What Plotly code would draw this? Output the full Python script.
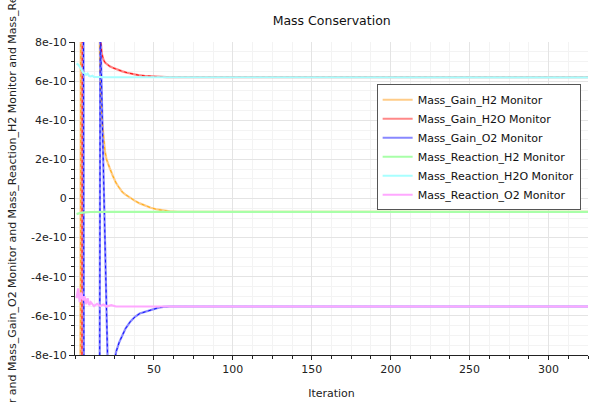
import numpy as np
import plotly.graph_objects as go

# values, in units of 1e-10
SCALE = 1e-10

gain_h2_iter = [1, 2, 3, 4, 6, 9, 12, 15, 16, 17, 18, 19, 20, 21, 22, 24, 26, 28, 30, 32,
                35, 38, 41, 45, 48, 52, 56, 60, 65, 325]
gain_h2 = [-45, -42, -40, 38, 35, 30, 25, 12, 6.0, 4.1, 3.0, 2.4, 2.0, 1.75, 1.55, 1.15, 0.8,
           0.55, 0.33, 0.2, 0.03, -0.12, -0.25, -0.38, -0.47, -0.56, -0.62, -0.66, -0.68, -0.68]

gain_h2o_iter = [1, 2, 3, 4, 5, 8, 12, 15, 16, 17, 18, 19, 20, 22, 24, 27, 30, 33, 36, 40,
                 44, 48, 52, 58, 325]
gain_h2o = [-40, -40, -42, -45, 40, 35, 30, 20, 8.3, 7.4, 7.1, 6.95, 6.87, 6.76, 6.68, 6.58,
            6.5, 6.43, 6.37, 6.31, 6.27, 6.24, 6.22, 6.2, 6.2]

gain_o2_iter = [1, 2, 3, 4, 5, 6, 9, 12, 15, 16, 17, 18, 19, 20, 21, 22, 23, 24, 25, 26, 28,
                30, 32, 35, 38, 41, 44, 47, 50, 53, 56, 60, 325]
gain_o2 = [40, 42, 45, 44, 40, -40, -35, -30, -40, 9.0, 5.2, 1.4, -2.5, -6.5, -9.5, -10.5,
           -10, -8.9, -8.3, -7.85, -7.35, -6.95, -6.65, -6.3, -6.05, -5.88, -5.8, -5.73,
           -5.65, -5.58, -5.54, -5.52, -5.52]

reaction_h2_iter = [1, 2, 3, 6, 10, 20, 325]
reaction_h2 = [-0.8, -0.77, -0.75, -0.71, -0.69, -0.68, -0.68]

reaction_h2o_iter = [1, 2, 3, 4, 5, 6, 7, 8, 9, 10, 11, 12, 14, 18, 325]
reaction_h2o = [6.9, 6.85, 6.75, 6.6, 6.45, 6.4, 6.32, 6.38, 6.26, 6.24, 6.27, 6.22, 6.21,
                6.2, 6.19]

reaction_o2_iter = [1, 2, 3, 4, 5, 6, 7, 8, 9, 10, 12, 14, 16, 18, 20, 23, 26, 325]
reaction_o2 = [-5.1, -4.6, -5.3, -4.8, -5.2, -5.0, -5.4, -5.1, -5.45, -5.3, -5.5, -5.38,
               -5.5, -5.42, -5.52, -5.45, -5.52, -5.52]

names = ["Mass_Gain_H2 Monitor", "Mass_Gain_H2O Monitor", "Mass_Gain_O2 Monitor",
         "Mass_Reaction_H2 Monitor", "Mass_Reaction_H2O Monitor", "Mass_Reaction_O2 Monitor"]

y_tickvals = [-8, -6, -4, -2, 0, 2, 4, 6, 8]
y_ticktext = ["-8e-10", "-6e-10", "-4e-10", "-2e-10", "0", "2e-10", "4e-10", "6e-10", "8e-10"]
x_tickvals = [50, 100, 150, 200, 250, 300]

gain = [
    (gain_h2_iter, gain_h2, "#ffcc88", "#ffaa00"),
    (gain_h2o_iter, gain_h2o, "#ff8888", "#ff0000"),
    (gain_o2_iter, gain_o2, "#8888ff", "#0000ff"),
]
reaction = [
    (reaction_h2_iter, reaction_h2, "#a8ffa8"),
    (reaction_h2o_iter, reaction_h2o, "#a8ffff"),
    (reaction_o2_iter, reaction_o2, "#ffa8ff"),
]

fig = go.Figure()
# gain monitors: pale wide line with a thin saturated core
for name, (xs, ys, light, dark) in zip(names[:3], gain):
    fig.add_trace(go.Scatter(x=xs, y=np.array(ys) * SCALE, name=name, mode="lines",
                             line=dict(color=light, width=2.2)))
for xs, ys, light, dark in gain:
    fig.add_trace(go.Scatter(x=xs, y=np.array(ys) * SCALE, mode="lines", showlegend=False,
                             line=dict(color=dark, width=0.9, dash="dot")))
# reaction monitors drawn last, over the gain curves
for name, (xs, ys, light) in zip(names[3:], reaction):
    fig.add_trace(go.Scatter(x=xs, y=np.array(ys) * SCALE, name=name, mode="lines",
                             line=dict(color=light, width=2.2)))

font = "DejaVu Sans, Verdana, sans-serif"
fig.update_layout(
    width=602, height=402,
    margin=dict(l=75, r=14, t=42, b=47),
    paper_bgcolor="white", plot_bgcolor="white",
    font=dict(family=font, size=11, color="#222"),
    title=dict(text="Mass Conservation", x=0.551, xanchor="center", y=0.96,
               font=dict(size=12.5, color="#111")),
    showlegend=True,
    legend=dict(x=0.588, y=0.865, xanchor="left", yanchor="top",
                bgcolor="white", bordercolor="#555", borderwidth=1,
                font=dict(size=11, color="#111"), tracegroupgap=0),
)
fig.update_xaxes(
    range=[0, 325], tickvals=x_tickvals, ticks="outside", ticklen=4, automargin=False,
    tickcolor="#222", showline=True, linecolor="#222", linewidth=1,
    showgrid=True, gridcolor="#e4e4e4", zeroline=False,
    minor=dict(dtick=12.5, tick0=0, ticks="outside", ticklen=3, tickcolor="#222",
               showgrid=True, gridcolor="#f3f3f3"),
    title=dict(text="Iteration", standoff=14, font=dict(size=11)),
)
fig.update_yaxes(
    range=[-8 * SCALE, 8 * SCALE], tickvals=np.array(y_tickvals) * SCALE, automargin=False,
    ticktext=y_ticktext, ticks="outside", ticklen=5, tickcolor="#222",
    showline=True, linecolor="#222", linewidth=1,
    showgrid=True, gridcolor="#e4e4e4", zeroline=False,
    minor=dict(dtick=0.5 * SCALE, tick0=0, ticks="outside", ticklen=3, tickcolor="#222",
               showgrid=True, gridcolor="#f3f3f3"),
    title=dict(text=" and ".join(names), standoff=12, font=dict(size=11)),
)

# page body has an 8px default margin; drop it so the figure fills the window
fig.write_html("out.html", config={"displayModeBar": False},
               post_script="document.body.style.margin='0px';")
